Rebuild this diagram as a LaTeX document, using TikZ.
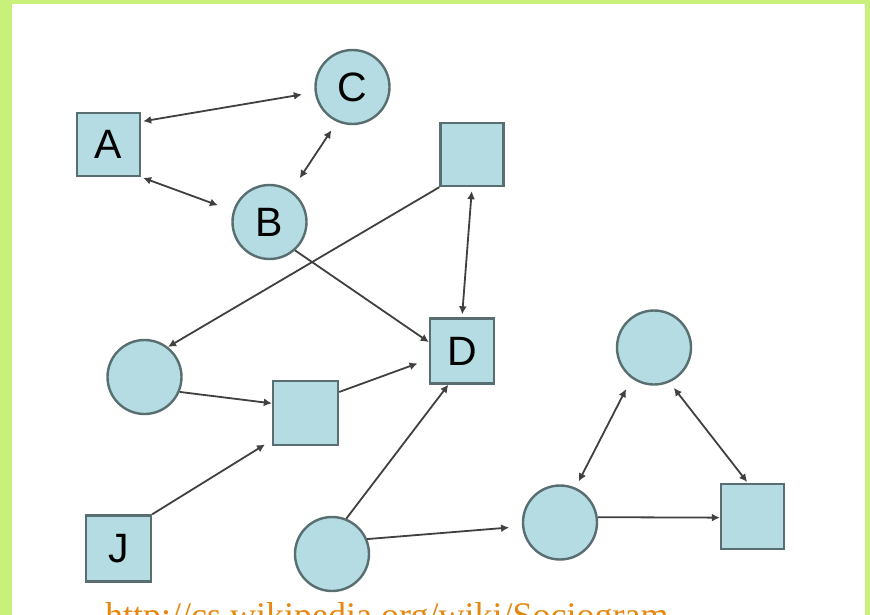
\documentclass[tikz,border=0pt]{standalone}
\usepackage{fontspec}
\setmainfont{Liberation Sans}
\newfontfamily\urlfont{Liberation Serif}
\usetikzlibrary{arrows.meta}
\definecolor{frame}{RGB}{200,240,122}
\definecolor{nodefill}{RGB}{180,220,226}
\definecolor{nodeedge}{RGB}{88,110,112}
\definecolor{edgecol}{RGB}{64,64,64}
\definecolor{urlcol}{RGB}{230,135,15}
\tikzset{
  person/.style={draw=nodeedge, fill=nodefill, line width=2.4pt, inner sep=0pt,
    font=\fontsize{41}{41}\selectfont},
  sq/.style={person, rectangle, minimum width=63pt, minimum height=63pt},
  circ/.style={person, circle, minimum size=74pt},
  tie/.style={draw=edgecol, line width=1.8pt, -{Latex[length=8pt,width=8pt]}},
  mutual/.style={draw=edgecol, line width=1.8pt, {Latex[length=8pt,width=8pt]}-{Latex[length=8pt,width=8pt]}}
}
\begin{document}
\begin{tikzpicture}[x=1pt,y=-1pt]
\useasboundingbox (0,0) rectangle (870,615);
\clip (0,0) rectangle (870,615);
\fill[frame] (0,0) rectangle (870,615);
\fill[white] (12,4) rectangle (865,620);

\node[sq]   (A)  at (108.5,144.5) {A};
\node[circ] (C)  at (352.5,87)    {C};
\node[circ] (B)  at (269.5,222)   {B};
\node[sq]   (TR) at (472,154.5)   {};
\node[sq, minimum width=64pt, minimum height=65pt] (D) at (462,351) {D};
\node[circ] (L)  at (144.5,377)   {};
\node[sq, minimum width=65pt, minimum height=64pt] (M) at (305.5,413) {};
\node[circ] (TC) at (654,347.5)   {};
\node[sq, minimum width=65pt, minimum height=66pt] (J) at (118.5,548.5) {J};
\node[circ] (BC) at (332,554)     {};
\node[circ] (C2) at (560,522.5)   {};
\node[sq, minimum width=63pt, minimum height=65pt] (SQ) at (752.5,516.5) {};

\draw[mutual, shorten <=2pt, shorten >=13pt] (A.35) -- (C.188);
\draw[mutual, shorten <=2pt, shorten >=16pt] (A.south east) -- (B.163);
\draw[mutual, shorten <=15pt, shorten >=10pt] (B.55) -- (C.246);
\draw[tie] (TR.south west) -- (L.52);
\draw[tie] (B.-48) -- (D.165);
\draw[mutual, shorten <=4pt, shorten >=3pt] (TR.south) -- (D.north);
\draw[tie] (L.-23) -- (M.164);
\draw[tie, shorten >=12pt] (M.32) -- (D.194);
\draw[tie, shorten >=8pt] (J.north east) -- (M.219);
\draw[tie] (BC.68) -- (D.248);
\draw[tie, shorten >=13pt] (BC.23) -- (C2.186);
\draw[mutual, shorten <=7pt, shorten >=12pt] (C2.66) -- (TC.234);
\draw[mutual, shorten <=7pt, shorten >=1pt] (TC.294) -- (SQ.98);
\draw[tie] (C2.8) -- (SQ.182);

\node[anchor=base west, inner sep=0pt, text=urlcol, font=\urlfont\fontsize{36}{36}\selectfont] (url) at (105,627) {http://cs.wikipedia.org/wiki/Sociogram};
\end{tikzpicture}
\end{document}
